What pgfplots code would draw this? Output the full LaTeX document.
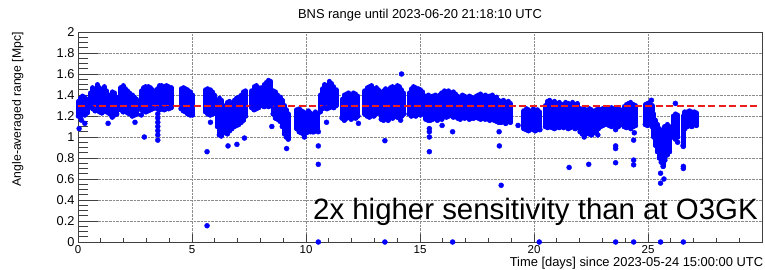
\documentclass[border=0pt]{standalone}
\usepackage{pgfplots}
\pgfplotsset{compat=1.18}
\usepackage{pgfplotstable}
\usepackage{fontspec}
\setmainfont{Liberation Sans}
\definecolor{rootred}{RGB}{235,30,30}
\definecolor{rootblue}{RGB}{0,0,255}

\pgfplotstableread{
x lo hi
0.02 1.20 1.34
0.10 1.19 1.37
0.20 1.22 1.39
0.30 1.21 1.38
0.40 1.23 1.36
0.55 1.30 1.42
0.65 1.27 1.47
0.75 1.25 1.45
0.85 1.26 1.50
0.95 1.24 1.47
1.05 1.23 1.45
1.15 1.25 1.48
1.25 1.24 1.44
1.40 1.22 1.40
1.50 1.19 1.43
1.60 1.21 1.42
1.70 1.22 1.38
1.88 1.26 1.47
1.98 1.24 1.49
2.08 1.25 1.46
2.18 1.23 1.44
2.28 1.22 1.42
2.38 1.20 1.40
2.48 1.21 1.38
2.58 1.22 1.36
2.78 1.26 1.44
2.88 1.25 1.47
2.98 1.24 1.48
3.08 1.25 1.48
3.18 1.26 1.47
3.28 1.27 1.45
3.48 1.27 1.46
3.58 1.26 1.49
3.68 1.27 1.49
3.78 1.26 1.48
3.88 1.27 1.49
3.98 1.27 1.48
4.08 1.28 1.47
4.52 1.27 1.46
4.62 1.25 1.47
4.72 1.24 1.46
4.82 1.22 1.45
4.92 1.21 1.43
5.02 1.21 1.40
5.60 1.24 1.45
5.70 1.22 1.46
5.80 1.21 1.45
5.90 1.22 1.43
5.98 1.23 1.40
6.12 1.10 1.33
6.20 1.02 1.37
6.28 1.01 1.35
6.36 1.04 1.30
6.45 1.06 1.28
6.55 1.04 1.33
6.65 1.06 1.34
6.75 1.08 1.32
6.85 1.10 1.35
6.95 1.11 1.37
7.05 1.12 1.38
7.15 1.14 1.40
7.25 1.16 1.43
7.35 1.20 1.44
7.62 1.28 1.44
7.72 1.26 1.48
7.82 1.27 1.49
7.92 1.28 1.47
8.06 1.30 1.47
8.16 1.29 1.50
8.26 1.30 1.52
8.36 1.29 1.54
8.46 1.30 1.53
8.56 1.22 1.44
8.66 1.18 1.43
8.76 1.17 1.40
8.86 1.15 1.38
8.96 1.10 1.35
9.06 1.03 1.30
9.14 1.00 1.26
9.22 0.98 1.22
9.60 1.08 1.26
9.70 1.05 1.27
9.80 1.04 1.25
9.90 1.03 1.24
10.00 1.04 1.22
10.10 1.05 1.25
10.20 1.06 1.23
10.30 1.05 1.21
10.40 1.07 1.24
10.50 1.08 1.22
10.62 1.24 1.40
10.72 1.27 1.46
10.82 1.28 1.50
10.92 1.27 1.49
11.02 1.28 1.53
11.12 1.29 1.51
11.22 1.28 1.48
11.32 1.30 1.45
11.58 1.18 1.36
11.68 1.16 1.40
11.78 1.18 1.41
11.88 1.20 1.42
11.98 1.17 1.40
12.08 1.19 1.42
12.18 1.18 1.41
12.28 1.20 1.39
12.58 1.22 1.44
12.68 1.20 1.47
12.78 1.19 1.48
12.88 1.21 1.49
12.98 1.20 1.46
13.08 1.22 1.47
13.18 1.23 1.45
13.30 1.17 1.40
13.40 1.16 1.44
13.50 1.18 1.46
13.60 1.16 1.45
13.70 1.19 1.47
13.80 1.18 1.48
13.90 1.20 1.47
14.00 1.19 1.49
14.10 1.18 1.48
14.20 1.20 1.45
14.28 1.22 1.42
14.52 1.22 1.42
14.62 1.20 1.46
14.72 1.21 1.48
14.82 1.20 1.47
14.92 1.22 1.46
15.02 1.21 1.45
15.12 1.23 1.43
15.26 1.17 1.39
15.36 1.16 1.40
15.46 1.16 1.38
15.56 1.17 1.39
15.66 1.18 1.40
15.76 1.16 1.38
15.86 1.18 1.40
15.96 1.17 1.42
16.06 1.20 1.44
16.16 1.19 1.43
16.26 1.20 1.44
16.36 1.21 1.42
16.46 1.19 1.43
16.56 1.20 1.41
16.66 1.18 1.39
16.76 1.17 1.38
16.86 1.19 1.40
16.96 1.18 1.39
17.06 1.19 1.37
17.16 1.17 1.39
17.26 1.18 1.38
17.36 1.18 1.37
17.46 1.19 1.39
17.56 1.18 1.40
17.66 1.17 1.41
17.76 1.18 1.39
17.86 1.17 1.40
17.96 1.18 1.38
18.06 1.16 1.39
18.16 1.17 1.40
18.26 1.16 1.37
18.36 1.15 1.38
18.46 1.14 1.35
18.56 1.14 1.34
18.66 1.15 1.35
18.76 1.13 1.33
18.86 1.15 1.34
18.96 1.14 1.32
19.56 1.08 1.25
19.66 1.07 1.27
19.76 1.06 1.26
19.86 1.08 1.24
19.96 1.07 1.27
20.06 1.06 1.25
20.16 1.08 1.26
20.26 1.07 1.24
20.50 1.10 1.30
20.60 1.09 1.34
20.70 1.10 1.35
20.80 1.09 1.33
20.90 1.08 1.34
21.00 1.10 1.32
21.10 1.09 1.33
21.20 1.10 1.31
21.30 1.09 1.31
21.40 1.10 1.33
21.50 1.08 1.32
21.60 1.09 1.30
21.70 1.10 1.33
21.80 1.08 1.31
21.90 1.09 1.32
22.02 1.05 1.27
22.12 1.03 1.26
22.22 1.02 1.27
22.32 1.04 1.25
22.42 1.03 1.27
22.52 1.02 1.26
22.62 1.04 1.24
22.72 1.05 1.26
22.82 1.08 1.27
22.92 1.10 1.26
23.02 1.11 1.27
23.20 1.12 1.28
23.30 1.11 1.27
23.40 1.10 1.28
23.50 1.12 1.27
23.60 1.11 1.28
23.70 1.10 1.27
23.80 1.12 1.26
23.95 1.10 1.29
24.05 1.09 1.31
24.15 1.10 1.32
24.25 1.08 1.33
24.35 1.10 1.31
24.45 1.11 1.30
24.88 1.12 1.31
24.98 1.11 1.32
25.08 1.12 1.33
25.18 1.10 1.30
25.26 1.00 1.22
25.34 0.92 1.16
25.42 0.86 1.12
25.50 0.80 1.08
25.58 0.76 1.05
25.66 0.72 1.05
25.74 0.78 1.10
25.84 0.83 1.12
25.94 0.86 1.10
26.10 1.00 1.20
26.20 0.98 1.22
26.30 1.00 1.21
26.54 0.92 1.20
26.62 1.08 1.24
26.72 1.10 1.24
26.82 1.11 1.25
26.92 1.10 1.24
27.02 1.12 1.24
27.12 1.11 1.23
}\bands

\pgfplotstableread{
x y
0.05 1.08
0.30 1.13
0.15 1.16
1.32 1.13
2.50 1.14
2.78 1.21
2.91 1.00
3.50 1.22
3.50 1.18
3.50 1.14
3.50 1.10
3.50 1.06
3.50 1.02
3.50 0.97
5.81 1.14
5.66 0.86
5.66 0.155
6.30 1.02
6.30 1.05
6.55 1.03
6.58 0.915
6.97 0.93
7.30 0.99
8.50 1.10
9.13 1.05
9.13 1.02
9.15 0.89
9.86 1.04
9.93 1.00
10.20 1.05
10.35 1.05
10.54 1.05
10.54 0.915
10.54 0.74
10.54 0.00
10.90 1.14
12.30 1.13
13.46 0.965
13.46 0.00
14.19 1.60
14.15 1.16
15.41 1.08
15.41 1.05
15.41 1.00
15.41 0.86
15.97 1.11
16.43 1.05
16.43 0.00
18.47 1.05
18.48 0.915
18.56 0.54
19.30 1.11
20.23 0.00
21.54 0.71
22.40 0.74
22.20 1.00
22.80 1.02
23.58 1.07
23.58 0.915
23.58 0.89
23.58 0.755
23.58 0.00
24.37 0.97
24.37 0.78
24.37 0.735
24.37 0.00
24.40 1.04
25.15 1.35
25.55 0.655
25.55 0.56
25.55 0.00
25.70 0.60
26.20 1.32
26.55 0.91
26.55 0.72
26.55 0.70
26.55 0.00
26.30 0.95
}\outliers

\pgfplotstableread{
x y
0 1.3
29.85 1.3
}\refline

\begin{document}
\begin{tikzpicture}
\useasboundingbox (-78bp,-28bp) rectangle (687bp,242bp);
\begin{axis}[
  scale only axis, width=684bp, height=210bp,
  xmin=0, xmax=30, ymin=0, ymax=2,
  clip=false,
  xtick={0,5,10,15,20,25,30},
  xticklabels={0,5,10,15,20,25,{}},
  ytick={0,0.2,0.4,0.6,0.8,1,1.2,1.4,1.6,1.8,2},
  minor x tick num=4, minor y tick num=3,
  tick align=inside,
  xtick pos=bottom, ytick pos=left,
  x tick style={/pgfplots/major tick length=8bp, /pgfplots/minor tick length=4bp, black!75, line width=0.7bp},
  y tick style={/pgfplots/major tick length=20bp, /pgfplots/minor tick length=10bp, black!75, line width=0.7bp},
  grid=major,
  major grid style={densely dotted, black!45, line width=0.7bp},
  axis line style={black!75, line width=0.9bp},
  yticklabel style={font=\fontsize{12.8bp}{14bp}\selectfont, /pgf/number format/fixed, /pgf/number format/assume math mode=true},
  xticklabel style={font=\fontsize{11.5bp}{13bp}\selectfont, /pgf/number format/assume math mode=true},
]
\addplot[only marks, mark=*, mark size=2.5bp, color=rootblue,
  error bars/.cd, y dir=plus, y explicit,
  error bar style={line width=5bp, line cap=round, color=rootblue}, error mark=none]
  table[x=x, y=lo, y error expr=\thisrow{hi}-\thisrow{lo}] {\bands};
\addplot[only marks, mark=*, mark size=2.5bp, color=rootblue] table[x=x, y=y] {\outliers};
\addplot[draw=rootred, color=rootred, mark=none, line width=2bp, dash pattern=on 7bp off 3.5bp] table[x=x, y=y] {\refline};
\end{axis}
\node[anchor=base, inner sep=0] at (342bp,223.7bp) {\fontsize{12.9bp}{15bp}\selectfont BNS range until 2023-06-20 21:18:10 UTC};
\node[anchor=base east, inner sep=0] at (685.3bp,-24.4bp) {\fontsize{12.9bp}{15bp}\selectfont Time [days] since 2023-05-24 15:00:00 UTC};
\node[rotate=90, anchor=base east, inner sep=0] at (-57bp,210bp) {\fontsize{12.2bp}{14bp}\selectfont Angle-averaged range [Mpc]};
\node[anchor=base west, inner sep=0] at (235bp,22.3bp) {\fontsize{29.4bp}{34bp}\selectfont 2x higher sensitivity than at O3GK};
\end{tikzpicture}
\end{document}
